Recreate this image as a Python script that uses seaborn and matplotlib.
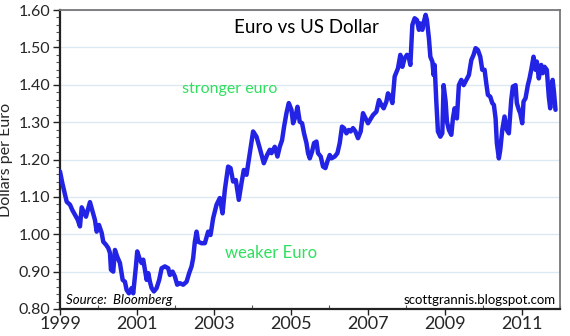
import matplotlib
matplotlib.use("Agg")
import matplotlib.pyplot as plt
from matplotlib.ticker import MultipleLocator, FixedLocator
import numpy as np
import pandas as pd
import seaborn as sns

# Euro/USD exchange rate, decimal years since 1999 and dollars per euro
years_since_1999 = [
    0.000, 0.060, 0.112, 0.174, 0.260, 0.319, 0.390, 0.460, 0.519, 0.564,
    0.675, 0.779, 0.909, 0.953, 1.013, 1.083, 1.125, 1.195, 1.255, 1.299,
    1.325, 1.384, 1.429, 1.488, 1.558, 1.629, 1.688, 1.732, 1.792, 1.862,
    1.904, 1.974, 2.008, 2.078, 2.122, 2.164, 2.208, 2.252, 2.294, 2.338,
    2.382, 2.442, 2.512, 2.579, 2.642, 2.727, 2.813, 2.857, 2.927, 2.987,
    3.047, 3.117, 3.203, 3.291, 3.358, 3.421, 3.462, 3.506, 3.551, 3.592,
    3.680, 3.766, 3.852, 3.914, 3.982, 4.070, 4.156, 4.226, 4.286, 4.371,
    4.434, 4.501, 4.571, 4.649, 4.719, 4.779, 4.849, 4.935, 5.021, 5.109,
    5.195, 5.299, 5.384, 5.455, 5.499, 5.584, 5.654, 5.714, 5.774, 5.826,
    5.888, 5.948, 6.018, 6.060, 6.122, 6.174, 6.234, 6.294, 6.345, 6.408,
    6.449, 6.494, 6.553, 6.605, 6.668, 6.709, 6.779, 6.839, 6.901, 6.953,
    7.013, 7.057, 7.143, 7.213, 7.273, 7.332, 7.384, 7.447, 7.506, 7.558,
    7.618, 7.681, 7.748, 7.818, 7.878, 7.922, 8.008, 8.138, 8.226, 8.294,
    8.356, 8.416, 8.486, 8.527, 8.590, 8.642, 8.701, 8.787, 8.849, 8.901,
    8.961, 9.021, 9.073, 9.109, 9.161, 9.221, 9.281, 9.332, 9.369, 9.421,
    9.462, 9.506, 9.540, 9.592, 9.629, 9.681, 9.714, 9.740, 9.784, 9.826,
    9.888, 9.940, 9.974, 10.026, 10.060, 10.112, 10.174, 10.216, 10.260, 10.319,
    10.371, 10.434, 10.494, 10.564, 10.631, 10.694, 10.753, 10.805, 10.865, 10.927,
    10.979, 11.039, 11.083, 11.125, 11.187, 11.239, 11.281, 11.325, 11.358, 11.410,
    11.447, 11.499, 11.558, 11.618, 11.670, 11.732, 11.774, 11.844, 11.878, 11.930,
    11.966, 12.018, 12.052, 12.104, 12.164, 12.208, 12.252, 12.312, 12.364, 12.397,
    12.449, 12.511, 12.553, 12.597, 12.657, 12.709, 12.745, 12.808, 12.842, 12.883,
]
dollars_per_euro = [
    1.168, 1.137, 1.114, 1.087, 1.079, 1.065, 1.052, 1.039, 1.021, 1.072,
    1.047, 1.086, 1.038, 1.007, 1.025, 1.004, 0.980, 0.972, 0.963, 0.950,
    0.905, 0.900, 0.958, 0.940, 0.923, 0.878, 0.873, 0.851, 0.842, 0.856,
    0.842, 0.914, 0.954, 0.932, 0.923, 0.932, 0.905, 0.878, 0.896, 0.873,
    0.856, 0.847, 0.856, 0.878, 0.909, 0.914, 0.909, 0.891, 0.900, 0.887,
    0.865, 0.869, 0.865, 0.873, 0.896, 0.914, 0.936, 0.980, 1.007, 0.980,
    0.976, 0.976, 1.007, 0.998, 1.043, 1.079, 1.097, 1.056, 1.119, 1.181,
    1.177, 1.141, 1.145, 1.092, 1.137, 1.172, 1.159, 1.217, 1.275, 1.261,
    1.230, 1.190, 1.212, 1.226, 1.217, 1.234, 1.208, 1.234, 1.252, 1.288,
    1.324, 1.351, 1.333, 1.297, 1.315, 1.341, 1.301, 1.297, 1.270, 1.244,
    1.217, 1.203, 1.221, 1.244, 1.248, 1.217, 1.208, 1.181, 1.177, 1.195,
    1.212, 1.203, 1.208, 1.217, 1.244, 1.288, 1.284, 1.270, 1.279, 1.275,
    1.284, 1.275, 1.257, 1.275, 1.324, 1.315, 1.297, 1.319, 1.328, 1.359,
    1.346, 1.337, 1.355, 1.377, 1.368, 1.351, 1.422, 1.444, 1.480, 1.448,
    1.471, 1.480, 1.471, 1.453, 1.560, 1.578, 1.573, 1.547, 1.564, 1.547,
    1.569, 1.587, 1.573, 1.524, 1.475, 1.462, 1.426, 1.453, 1.355, 1.275,
    1.261, 1.270, 1.399, 1.355, 1.301, 1.279, 1.266, 1.310, 1.337, 1.310,
    1.399, 1.413, 1.399, 1.413, 1.426, 1.466, 1.480, 1.498, 1.493, 1.475,
    1.440, 1.440, 1.404, 1.373, 1.368, 1.351, 1.346, 1.310, 1.244, 1.203,
    1.226, 1.279, 1.315, 1.279, 1.270, 1.359, 1.395, 1.399, 1.351, 1.333,
    1.324, 1.297, 1.355, 1.364, 1.399, 1.417, 1.440, 1.475, 1.440, 1.462,
    1.417, 1.453, 1.431, 1.448, 1.440, 1.368, 1.337, 1.413, 1.382, 1.333,
]
base_year = 1999
year_ticks = [1999, 2001, 2003, 2005, 2007, 2009, 2011]
y_ticks = [0.80, 0.90, 1.00, 1.10, 1.20, 1.30, 1.40, 1.50, 1.60]

df = pd.DataFrame({
    "year": np.array(years_since_1999) + base_year,
    "rate": dollars_per_euro,
})

sns.set_theme(style="white")
plt.rcParams["font.family"] = ["Lato", "DejaVu Sans"]

fig = plt.figure(figsize=(5.70, 3.36), dpi=100)
ax = fig.add_axes([60 / 570, 27 / 336, 500 / 570, 299 / 336])

sns.lineplot(data=df, x="year", y="rate", ax=ax, color="#2323e6",
             linewidth=3.2, zorder=3)

ax.set_xlim(1999, 2012)
ax.set_ylim(0.80, 1.60)

ax.yaxis.set_major_locator(FixedLocator(y_ticks))
ax.yaxis.set_minor_locator(MultipleLocator(0.02))
ax.set_yticklabels([f"{v:.2f}" for v in y_ticks], fontsize=11.5)
ax.xaxis.set_major_locator(FixedLocator(year_ticks))
ax.xaxis.set_minor_locator(MultipleLocator(1))
ax.set_xticklabels([str(y) for y in year_ticks], fontsize=13)

ax.tick_params(axis="y", which="major", direction="out", length=5, width=1,
               color="#222222", pad=2, left=True)
ax.tick_params(axis="y", which="minor", direction="out", length=3, width=0.8,
               color="#555555", left=True)
ax.tick_params(axis="x", which="major", direction="out", length=4, width=1,
               color="#222222", pad=1, bottom=True)
ax.tick_params(axis="x", which="minor", direction="in", length=3, width=0.8,
               color="#555555", bottom=True)

ax.grid(axis="y", which="major", color="#dce8f2", linewidth=1.0, zorder=0)
ax.grid(axis="x", visible=False)

for side in ("left", "bottom"):
    ax.spines[side].set_color("#222222")
    ax.spines[side].set_linewidth(1.6)
for side in ("top", "right"):
    ax.spines[side].set_color("#777777")
    ax.spines[side].set_linewidth(1.3)

ax.set_xlabel("")
ax.set_ylabel("Dollars per Euro", fontsize=11.5, labelpad=4)

ax.text(2005.4, 1.552, "Euro vs US Dollar", fontsize=13.5, color="black",
        ha="center", va="center")
ax.text(2002.17, 1.388, "stronger euro", fontsize=11.5, color="#2ee05e",
        ha="left", va="center")
ax.text(2003.3, 0.950, "weaker Euro", fontsize=12, color="#2ee05e",
        ha="left", va="center")
ax.text(1999.15, 0.824, "Source:  Bloomberg", fontsize=9.5, style="italic",
        color="black", ha="left", va="center")
ax.text(2011.9, 0.824, "scottgrannis.blogspot.com", fontsize=9.5,
        color="black", ha="right", va="center")

fig.savefig("out.png", dpi=100)
